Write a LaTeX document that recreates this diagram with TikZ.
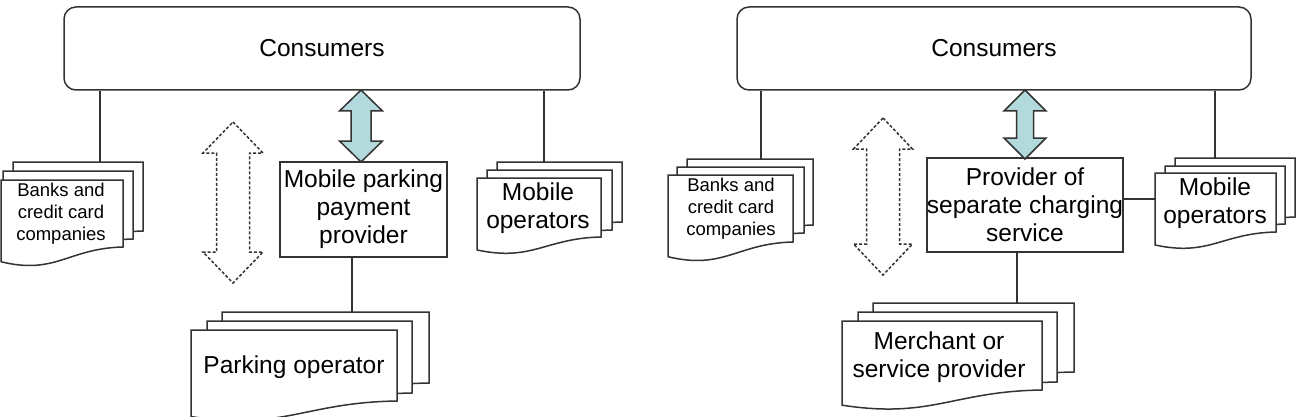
\documentclass[tikz,border=0pt]{standalone}
\usepackage{fontspec}
\setmainfont{Liberation Sans}
\usepackage{tikz}

\definecolor{arrowblue}{RGB}{178,218,220}

% one page of a stack: left, top, right, bottom (right-hand corner)
\newcommand{\docsheet}[4]{%
  \pgfmathsetmacro\shw{#3-#1}\pgfmathsetmacro\shh{#4-#2}
  \draw[sheet] (#1,#2) -- (#3,#2) -- (#3,#4)
    .. controls ({#3-0.45*\shw},{#4+0.02*\shh}) and ({#1+0.45*\shw},{#4+0.42*\shh}) .. (#1,{#4+0.22*\shh}) -- cycle;}

% up-down arrow: style, centre x, top, bottom, half head, half shaft, head length
\newcommand{\updown}[7]{%
  \draw[#1] (#2,#3) -- ({#2+#5},{#3+#7}) -- ({#2+#6},{#3+#7}) -- ({#2+#6},{#4-#7})
    -- ({#2+#5},{#4-#7}) -- (#2,#4) -- ({#2-#5},{#4-#7}) -- ({#2-#6},{#4-#7})
    -- ({#2-#6},{#3+#7}) -- ({#2-#5},{#3+#7}) -- cycle;}

\begin{document}
\begin{tikzpicture}[x=1pt,y=-1pt,
  sheet/.style={draw=black!80, line width=1.5pt, fill=white},
  link/.style={draw=black!80, line width=1.5pt},
  box/.style={draw=black!80, line width=1.5pt, fill=white, inner sep=0pt},
  bluearrow/.style={draw=black!80, line width=1.5pt, fill=arrowblue},
  dasharrow/.style={draw=black!80, line width=1.5pt, fill=white, dash pattern=on 3pt off 2pt},
  big/.style={font=\fontsize{24.5}{28}\selectfont, align=center},
  small/.style={font=\fontsize{18.5}{22}\selectfont, align=center}]
\useasboundingbox (0,0) rectangle (1300,417);

% left: mobile parking
\node[box, big, rounded corners=12pt, minimum width=516pt, minimum height=83pt] (consL) at (322,48.5) {Consumers};
\node[box, big, minimum width=167pt, minimum height=95pt] (provL) at (363.5,209.5) {Mobile parking\\payment\\provider};
\coordinate (bankLin) at (100,162);
\coordinate (mobLin) at (544,162);
\coordinate (parkLin) at (352,312);
\draw[link] (consL.south -| bankLin) -- (bankLin);
\draw[link] (consL.south -| mobLin) -- (mobLin);
\draw[link] (provL.south -| parkLin) -- (parkLin);
\docsheet{13}{162}{143}{231}
\docsheet{3}{171}{133}{239}
\docsheet{1}{180}{123}{247}
\node[small] (bankL) at (61,214) {Banks and\\credit card\\companies};
\docsheet{497}{162}{622}{222}
\docsheet{487}{170}{612}{230}
\docsheet{477}{178}{601}{237}
\node[big] (mobL) at (538,208) {Mobile\\operators};
\docsheet{222}{312}{429}{383}
\docsheet{207}{321}{412}{393}
\docsheet{191}{330}{397}{401}
\node[big] (parkL) at (294,367) {Parking operator};
\updown{dasharrow}{233}{122}{283}{30}{16.5}{31}
\updown{bluearrow}{361}{90}{162}{21.5}{10}{21}

% right: separate charging
\node[box, big, rounded corners=12pt, minimum width=514pt, minimum height=83pt] (consR) at (994,48.5) {Consumers};
\node[box, big, minimum width=192pt, minimum height=94pt] (provR) at (1025,205) {Provider of\\separate charging\\service};
\coordinate (bankRin) at (761,159);
\coordinate (mobRtop) at (1215,158);
\coordinate (mobRin) at (1155,199);
\coordinate (mercRin) at (1017,303);
\draw[link] (consR.south -| bankRin) -- (bankRin);
\draw[link] (consR.south -| mobRtop) -- (mobRtop);
\draw[link] (provR.east |- mobRin) -- (mobRin);
\draw[link] (provR.south -| mercRin) -- (mercRin);
\docsheet{687}{159}{813}{225}
\docsheet{677}{167}{804}{233}
\docsheet{668}{175}{793}{242}
\node[small] (bankR) at (731,209) {Banks and\\credit card\\companies};
\docsheet{1175}{158}{1295}{217}
\docsheet{1165}{166}{1285}{224}
\docsheet{1155}{173}{1276}{232}
\node[big] (mobR) at (1215,203) {Mobile\\operators};
\docsheet{873}{303}{1074}{372}
\docsheet{858}{312}{1057}{382}
\docsheet{842}{321}{1042}{390}
\node[big] (mercR) at (939,357) {Merchant or\\service provider};
\updown{dasharrow}{883}{118}{275}{29.5}{16.5}{31}
\updown{bluearrow}{1025}{90}{159}{21}{8.5}{21}
\end{tikzpicture}
\end{document}
